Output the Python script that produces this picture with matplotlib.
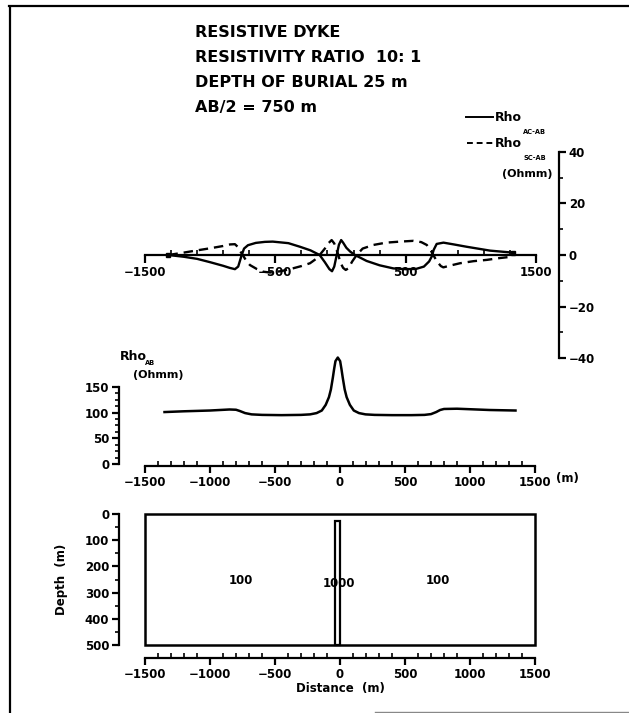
import matplotlib
matplotlib.use('Agg')
import matplotlib.pyplot as plt
from matplotlib.ticker import MultipleLocator, FixedLocator
from matplotlib.lines import Line2D
from matplotlib.patches import Rectangle

W, H = 629, 713
DPI = 100

# ---------------- data ----------------
title_lines = ["RESISTIVE DYKE", "RESISTIVITY RATIO  10: 1",
               "DEPTH OF BURIAL 25 m", "AB/2 = 750 m"]

# Rho AC-AB (solid)
ac_x = [-1320, -1200, -1100, -1000, -900, -850, -810, -785, -770, -758, -740,
        -710, -650, -580, -520, -400, -311, -230, -160, -120, -85, -65, -48,
        -29, -12, 5, 20, 45, 75, 111, 200, 300, 405, 500, 580, 640, 680, 700,
        715, 738, 790, 870, 968, 1147, 1326]
ac_v = [0.0, -0.7, -1.5, -2.8, -4.2, -5.0, -5.5, -4.5, -2.0, 0.0, 2.5,
        3.8, 4.7, 5.1, 5.2, 4.6, 3.2, 1.8, 0.0, -2.8, -5.5, -6.3, -4.5,
        0.0, 4.0, 5.8, 4.8, 2.8, 1.3, 0.0, -2.3, -4.0, -5.2, -5.5, -5.4, -4.5, -2.5, -0.6,
        2.0, 4.3, 4.8, 4.1, 3.2, 1.7, 0.9]

# Rho SC-AB (dashed)
sc_x = [-1320, -1206, -1100, -1001, -900, -848, -810, -785, -770, -750, -720,
        -695, -640, -592, -541, -460, -388, -300, -234, -190, -160, -120, -94,
        -68, -48, -30, -17, 0, 20, 40, 60, 90, 124, 170, 252, 350, 457, 559,
        620, 662, 690, 712, 740, 770, 789, 850, 917, 1020, 1122, 1220, 1326]
sc_v = [0.0, 0.9, 1.8, 2.6, 3.5, 4.1, 4.2, 3.0, 1.5, 0.0, -2.5,
        -3.9, -5.5, -6.5, -6.8, -6.3, -5.5, -4.3, -3.2, -1.6, 0.0, 2.5, 4.5,
        5.8, 4.5, 2.0, 0.0, -3.0, -5.0, -5.8, -5.2, -2.5, 0.0, 2.5, 3.9, 4.8, 5.2, 5.5,
        5.0, 3.9, 2.0, 0.0, -2.5, -4.3, -4.8, -4.0, -3.2, -2.4, -1.9, -1.2, -0.6]

# Rho AB
rho_x = [-1350, -1200, -1000, -850, -800, -770, -730, -680, -600, -450, -300,
         -230, -180, -140, -110, -85, -70, -55, -45, -35, -17, 1, 11, 21, 36,
         51, 76, 106, 146, 196, 266, 400, 550, 650, 700, 740, 770, 800, 900,
         1000, 1150, 1350]
rho_v = [101, 102.5, 104, 106, 105.5, 103, 99, 96.5, 95.5, 95, 95.5,
         96.5, 99, 104, 115, 130, 145, 168, 185, 200, 207, 200, 185, 168, 145,
         130, 115, 104, 99, 96.5, 95.5, 95, 95, 95.5, 97, 101, 105, 107, 107.5,
         106.5, 105, 104]

# model
model_x = [-1500, 1500]
model_depth = [0, 500]
dyke_x = [-37, 0]
dyke_top = 25
res_labels = ["100", "1000", "100"]
res_label_x = [-760, -12, 750]
res_label_depth = [255, 265, 255]

top_major = [-1500, -500, 500, 1500]
dist_major = [-1500, -1000, -500, 0, 500, 1000, 1500]
right_major = [-40, -20, 0, 20, 40]
rho_major = [0, 50, 100, 150]
rho_minor = [12.5, 25, 37.5, 62.5, 75, 87.5, 112.5, 125, 137.5]
depth_major = [0, 100, 200, 300, 400, 500]

# ---------------- style ----------------
plt.rcParams['font.family'] = ['DejaVu Sans']
plt.rcParams['font.weight'] = 'bold'
LW = 1.6
TICKFS = 8.5

fig = plt.figure(figsize=(W / DPI, H / DPI), dpi=DPI)


def ax_rect(l, t, r, b):
    return [l / W, 1 - b / H, (r - l) / W, (b - t) / H]


def fx(px):
    return px / W


def fy(py):
    return 1 - py / H


def minus(vals):
    return [str(v).replace('-', '\u2212') for v in vals]


# ---------------- top panel ----------------
ax1 = fig.add_axes(ax_rect(145, 152, 536, 358))
ax1.set_xlim(-1500, 1500)
ax1.set_ylim(-40, 40)
ax1.patch.set_visible(False)
for s in ['left', 'top']:
    ax1.spines[s].set_visible(False)
ax1.spines['bottom'].set_position(('data', 0))
ax1.spines['right'].set_position(('axes', (559 - 145) / 391))
for s in ['bottom', 'right']:
    ax1.spines[s].set_linewidth(LW)
ax1.plot(ac_x, ac_v, color='black', lw=1.7, solid_joinstyle='round')
ax1.plot(sc_x, sc_v, color='black', lw=1.7, dashes=(4, 2.5))
ax1.plot([ac_x[0], ac_x[-1]], [ac_v[0], ac_v[-1]], 's', color='black', ms=3)
ax1.xaxis.set_major_locator(FixedLocator(top_major))
ax1.xaxis.set_minor_locator(MultipleLocator(200, offset=100))
ax1.set_xticklabels(minus(top_major))
ax1.tick_params(axis='x', which='major', direction='out', length=6, width=LW,
                labelsize=TICKFS, pad=2)
ax1.tick_params(axis='x', which='minor', direction='in', length=3.5, width=1.2)
ax1.yaxis.tick_right()
ax1.yaxis.set_major_locator(FixedLocator(right_major))
ax1.yaxis.set_minor_locator(MultipleLocator(10))
ax1.set_yticklabels(minus(right_major))
ax1.tick_params(axis='y', which='major', direction='out', length=5, width=LW,
                labelsize=TICKFS, pad=2)
ax1.tick_params(axis='y', which='minor', direction='out', length=3, width=1.2)

# legend (manual)
fig.add_artist(Line2D([fx(466), fx(493)], [fy(117), fy(117)], color='black', lw=1.4))
fig.add_artist(Line2D([fx(467), fx(493)], [fy(143), fy(143)], color='black', lw=1.4,
                      dashes=(3, 2)))
fig.text(fx(495), fy(121), "Rho", fontsize=9, fontweight='bold', va='baseline')
fig.text(fx(523), fy(134), "AC-AB", fontsize=4.8, fontweight='bold', va='baseline')
fig.text(fx(495), fy(147), "Rho", fontsize=9, fontweight='bold', va='baseline')
fig.text(fx(523), fy(160), "SC-AB", fontsize=4.8, fontweight='bold', va='baseline')
fig.text(fx(502), fy(177), "(Ohmm)", fontsize=8, fontweight='bold', va='baseline')

# title block
for i, line in enumerate(title_lines):
    fig.text(fx(195), fy(37 + 25 * i), line, fontsize=11.5, fontweight='bold',
             va='baseline', ha='left')

# ---------------- middle panel ----------------
ax2 = fig.add_axes(ax_rect(145, 356, 535, 464))
ax2.set_xlim(-1500, 1500)
ax2.set_ylim(0, 210)
ax2.patch.set_visible(False)
for s in ['right', 'top']:
    ax2.spines[s].set_visible(False)
ax2.spines['left'].set_position(('axes', -26 / 390))
ax2.spines['left'].set_bounds(0, 150)
ax2.spines['bottom'].set_position(('outward', 1.5))
for s in ['bottom', 'left']:
    ax2.spines[s].set_linewidth(LW)
ax2.plot(rho_x, rho_v, color='black', lw=1.8, solid_joinstyle='round')
ax2.xaxis.set_major_locator(FixedLocator(dist_major))
ax2.xaxis.set_minor_locator(MultipleLocator(100))
ax2.set_xticklabels(minus(dist_major))
ax2.tick_params(axis='x', which='major', direction='out', length=5, width=LW,
                labelsize=TICKFS, pad=2)
ax2.tick_params(axis='x', which='minor', direction='in', length=3.5, width=1.2)
ax2.yaxis.set_major_locator(FixedLocator(rho_major))
ax2.yaxis.set_minor_locator(FixedLocator(rho_minor))
ax2.tick_params(axis='y', which='major', direction='out', length=5, width=LW,
                labelsize=TICKFS, pad=2)
ax2.tick_params(axis='y', which='minor', direction='out', length=3, width=1.2)
fig.text(fx(556), fy(482), "(m)", fontsize=TICKFS, fontweight='bold', va='baseline')
fig.text(fx(120), fy(360), "Rho", fontsize=9, fontweight='bold', va='baseline')
fig.text(fx(145), fy(365), "AB", fontsize=4.8, fontweight='bold', va='baseline')
fig.text(fx(133), fy(378), "(Ohmm)", fontsize=8, fontweight='bold', va='baseline')

# ---------------- bottom panel ----------------
ax3 = fig.add_axes(ax_rect(145, 514, 535, 645))
ax3.set_xlim(-1500, 1500)
ax3.set_ylim(500, 0)
ax3.patch.set_visible(False)
for s in ['right', 'top']:
    ax3.spines[s].set_visible(False)
ax3.spines['left'].set_position(('axes', -26 / 390))
ax3.spines['bottom'].set_position(('outward', 9.2))
for s in ['bottom', 'left']:
    ax3.spines[s].set_linewidth(LW)
ax3.add_patch(Rectangle((model_x[0], model_depth[0]), model_x[1] - model_x[0],
                        model_depth[1] - model_depth[0], fill=False,
                        edgecolor='black', lw=1.8, clip_on=False))
ax3.add_patch(Rectangle((dyke_x[0], dyke_top), dyke_x[1] - dyke_x[0],
                        model_depth[1] - dyke_top, fill=False,
                        edgecolor='black', lw=1.6, clip_on=False))
for lab, x, d in zip(res_labels, res_label_x, res_label_depth):
    ax3.text(x, d, lab, fontsize=TICKFS, fontweight='bold', ha='center', va='center')
ax3.xaxis.set_major_locator(FixedLocator(dist_major))
ax3.xaxis.set_minor_locator(MultipleLocator(100))
ax3.set_xticklabels(minus(dist_major))
ax3.tick_params(axis='x', which='major', direction='out', length=5, width=LW,
                labelsize=TICKFS, pad=2)
ax3.tick_params(axis='x', which='minor', direction='in', length=3.5, width=1.2)
ax3.yaxis.set_major_locator(FixedLocator(depth_major))
ax3.yaxis.set_minor_locator(MultipleLocator(50))
ax3.tick_params(axis='y', which='major', direction='out', length=5, width=LW,
                labelsize=TICKFS, pad=2)
ax3.tick_params(axis='y', which='minor', direction='out', length=3, width=1.2)
ax3.set_xlabel("Distance  (m)", fontsize=TICKFS, fontweight='bold', labelpad=1)
ax3.set_ylabel("Depth  (m)", fontsize=TICKFS, fontweight='bold', labelpad=12)

# ---------------- page frame ----------------
fig.add_artist(Line2D([fx(10), fx(10)], [fy(8), fy(713)], color='black', lw=1.6))
fig.add_artist(Line2D([fx(9), fx(629)], [fy(6), fy(6)], color='black', lw=1.6))
fig.add_artist(Line2D([fx(375), fx(629)], [fy(712), fy(712)], color='#888888', lw=1.0))

fig.savefig('out.png', dpi=DPI)
